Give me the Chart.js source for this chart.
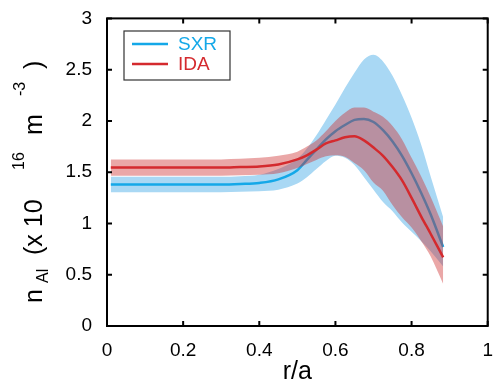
<!DOCTYPE html>
<html>
<head>
<meta charset="utf-8">
<script src="https://cdn.jsdelivr.net/npm/chart.js@4"></script>
<style>
  html, body { margin: 0; padding: 0; background: #fff; }
  #wrap { width: 498px; height: 388px; }
</style>
</head>
<body>
<div id="wrap"><canvas id="myChart" width="498" height="388"></canvas></div>
<script>
// r/a positions
let r = [0.01, 0.1, 0.2, 0.3, 0.35, 0.4, 0.45, 0.5, 0.525, 0.55, 0.575, 0.6, 0.625, 0.65, 0.675, 0.7, 0.725, 0.75, 0.775, 0.8, 0.825, 0.85, 0.883];
// SXR profile and its band
let sxr   = [1.38, 1.38, 1.38, 1.38, 1.385, 1.395, 1.43, 1.52, 1.62, 1.72, 1.82, 1.90, 1.96, 2.01, 2.02, 1.99, 1.91, 1.80, 1.66, 1.49, 1.30, 1.09, 0.77];
let sxrHi = [1.455, 1.455, 1.455, 1.455, 1.46, 1.475, 1.53, 1.63, 1.73, 1.86, 2.01, 2.16, 2.32, 2.47, 2.60, 2.645, 2.58, 2.44, 2.25, 2.03, 1.77, 1.46, 1.06];
let sxrLo = [1.305, 1.305, 1.305, 1.305, 1.31, 1.315, 1.33, 1.39, 1.45, 1.53, 1.61, 1.66, 1.64, 1.57, 1.45, 1.33, 1.21, 1.12, 1.01, 0.92, 0.83, 0.73, 0.58];
// IDA profile and its band
let ida   = [1.545, 1.545, 1.545, 1.545, 1.55, 1.555, 1.575, 1.625, 1.665, 1.72, 1.78, 1.81, 1.84, 1.85, 1.81, 1.74, 1.66, 1.55, 1.42, 1.25, 1.07, 0.90, 0.67];
let idaHi = [1.625, 1.625, 1.625, 1.625, 1.63, 1.64, 1.66, 1.70, 1.75, 1.81, 1.90, 2.00, 2.08, 2.13, 2.13, 2.09, 2.04, 1.95, 1.82, 1.64, 1.46, 1.26, 0.97];
let idaLo = [1.465, 1.465, 1.465, 1.465, 1.47, 1.475, 1.49, 1.54, 1.58, 1.62, 1.655, 1.665, 1.65, 1.59, 1.52, 1.40, 1.32, 1.18, 1.06, 0.96, 0.83, 0.68, 0.41];

let xTicks = [0, 0.2, 0.4, 0.6, 0.8, 1];
let yTicks = [0, 0.5, 1, 1.5, 2, 2.5, 3];

let seriesNames = ["SXR", "IDA"];
let seriesColors = ["#14a8e8", "#d42a2e"];

function pts(ys) {
  return ys.map((y, i) => ({ x: r[i], y: y }));
}

const FONT = "'Liberation Sans', Arial, Helvetica, sans-serif";

// box frame + inward ticks, y title and legend
const framePlugin = {
  id: "frame",
  afterDraw(chart) {
    const ctx = chart.ctx;
    const a = chart.chartArea;
    const xs = chart.scales.x, ys = chart.scales.y;
    ctx.save();
    ctx.strokeStyle = "#000";
    ctx.lineWidth = 2;
    ctx.strokeRect(a.left, a.top, a.right - a.left, a.bottom - a.top);
    ctx.beginPath();
    xTicks.forEach((v) => {
      const px = xs.getPixelForValue(v);
      ctx.moveTo(px, a.bottom); ctx.lineTo(px, a.bottom - 5);
      ctx.moveTo(px, a.top); ctx.lineTo(px, a.top + 5);
    });
    yTicks.forEach((v) => {
      const py = ys.getPixelForValue(v);
      ctx.moveTo(a.left, py); ctx.lineTo(a.left + 5, py);
      ctx.moveTo(a.right, py); ctx.lineTo(a.right - 5, py);
    });
    ctx.stroke();

    // y axis title  n_Al (x 10^16 m^-3)
    ctx.translate(42, 303);
    ctx.rotate(-Math.PI / 2);
    ctx.fillStyle = "#000";
    ctx.textBaseline = "alphabetic";
    const big = "25px " + FONT, small = "16px " + FONT;
    const parts = [
      ["n", big, 0, 0],
      ["Al", small, 20, 6],
      ["(x 10", big, 48, 0],
      ["16", small, 133, -18],
      ["m", big, 168, 0],
      ["-3", small, 207, -17],
      [")", big, 234, 0]
    ];
    parts.forEach((p) => {
      ctx.font = p[1];
      ctx.fillText(p[0], p[2], p[3]);
    });
    ctx.restore();

    // legend
    ctx.save();
    ctx.strokeStyle = "#333";
    ctx.lineWidth = 1.2;
    ctx.strokeRect(124, 31, 106, 49);
    ctx.font = "19px " + FONT;
    ctx.textBaseline = "middle";
    seriesNames.forEach((name, i) => {
      const y = 44 + i * 20;
      ctx.strokeStyle = seriesColors[i];
      ctx.lineWidth = 2.5;
      ctx.beginPath();
      ctx.moveTo(132, y); ctx.lineTo(168, y);
      ctx.stroke();
      ctx.fillStyle = seriesColors[i];
      ctx.fillText(name, 178, y + 1);
    });
    ctx.restore();
  }
};

const bandBase = { pointRadius: 0, borderWidth: 0, cubicInterpolationMode: "monotone" };
const lineBase = { pointRadius: 0, borderWidth: 2.5, fill: false, cubicInterpolationMode: "monotone" };

var ctx = document.getElementById("myChart").getContext("2d");
var myChart = new Chart(ctx, {
  type: "line",
  data: {
    datasets: [
      Object.assign({ label: "SXR hi", data: pts(sxrHi), fill: "+1", backgroundColor: "#a9d8f4", order: 6 }, bandBase),
      Object.assign({ label: "SXR lo", data: pts(sxrLo), fill: false, order: 5 }, bandBase),
      Object.assign({ label: "SXR", data: pts(sxr), borderColor: seriesColors[0], order: 4 }, lineBase),
      Object.assign({ label: "IDA hi", data: pts(idaHi), fill: "+1", backgroundColor: "rgba(205,45,45,0.42)", order: 3 }, bandBase),
      Object.assign({ label: "IDA lo", data: pts(idaLo), fill: false, order: 2 }, bandBase),
      Object.assign({ label: "IDA", data: pts(ida), borderColor: seriesColors[1], order: 1 }, lineBase)
    ]
  },
  options: {
    responsive: false,
    animation: false,
    layout: { padding: { top: 18, right: 2, left: 0, bottom: 0 } },
    plugins: { legend: { display: false }, tooltip: { enabled: false } },
    scales: {
      x: {
        type: "linear",
        min: 0, max: 1,
        afterFit: (s) => { s.height = 62; },
        afterBuildTicks: (s) => { s.ticks = xTicks.map((v) => ({ value: v })); },
        grid: { display: false },
        border: { display: false },
        ticks: { color: "#000", font: { family: FONT, size: 19 }, padding: 5, maxRotation: 0, callback: (v) => String(v) },
        title: { display: true, text: "r/a", color: "#000", font: { family: FONT, size: 25 }, padding: { top: 0, bottom: 1 } }
      },
      y: {
        min: 0, max: 3,
        afterFit: (s) => { s.width = 107; },
        afterBuildTicks: (s) => { s.ticks = yTicks.map((v) => ({ value: v })); },
        grid: { display: false },
        border: { display: false },
        ticks: { color: "#000", font: { family: FONT, size: 19 }, padding: 7, callback: (v) => String(v) }
      }
    }
  },
  plugins: [framePlugin]
});
</script>
</body>
</html>
